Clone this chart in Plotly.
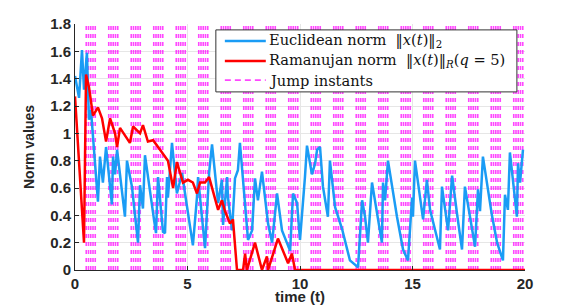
import plotly.graph_objects as go

# Euclidean norm ||x(t)||_2
t_euc = [0.00, 0.18, 0.31, 0.40, 0.53, 0.62, 0.71, 1.02, 1.11, 1.24, 1.38, 1.64, 1.69, 1.78, 1.87,
         2.22, 2.31, 2.53, 2.80, 2.89, 3.02, 3.11, 3.51, 3.60, 3.69, 3.91, 4.00, 4.09, 4.13, 4.31,
         4.53, 4.76, 4.89, 5.24, 5.42, 5.47, 5.64, 5.78, 5.96, 6.09, 6.36, 6.53, 6.58, 6.76, 6.80,
         6.98, 7.11, 7.24, 7.33, 7.64, 7.69, 7.87, 8.00, 8.13, 8.31, 8.58, 8.76, 8.98, 9.20, 9.56,
         9.69, 9.87, 10.00, 10.22, 10.31, 10.53, 10.67, 10.76, 10.89, 11.02, 11.24, 11.33, 11.56,
         11.87, 12.22, 12.58, 12.76, 12.89, 13.02, 13.20, 13.64, 13.69, 13.78, 13.91, 14.31, 14.58,
         14.80, 14.98, 15.02, 15.11, 15.47, 15.64, 15.78, 16.22, 16.31, 16.58, 16.76, 16.98, 17.20,
         17.33, 17.78, 17.91, 18.00, 18.13, 18.53, 18.76, 19.02, 19.11, 19.24, 19.33, 19.64, 19.69,
         19.78, 19.91]
v_euc = [1.42, 1.26, 1.61, 1.32, 1.59, 1.10, 1.17, 0.50, 0.83, 0.64, 0.90, 0.48, 0.83, 0.70, 0.88,
         0.39, 0.80, 0.61, 0.20, 0.62, 0.45, 0.84, 0.37, 0.27, 0.68, 0.28, 0.27, 0.68, 0.53, 0.93,
         0.56, 0.71, 0.56, 0.18, 0.53, 0.68, 0.39, 0.16, 0.71, 0.92, 0.49, 0.66, 0.33, 0.68, 0.53,
         0.29, 0.67, 0.73, 0.93, 0.37, 0.22, 0.29, 0.67, 0.51, 0.72, 0.34, 0.20, 0.56, 0.29, 0.14,
         0.56, 0.49, 0.22, 0.68, 0.91, 0.70, 0.78, 0.88, 0.90, 0.61, 0.39, 0.80, 0.46,
         0.30, 0.07, 0.02, 0.51, 0.39, 0.20, 0.64, 0.20, 0.64, 0.51, 0.80, 0.39, 0.15,
         0.07, 0.53, 0.39, 0.80, 0.37, 0.66, 0.44, 0.15, 0.61, 0.29, 0.69, 0.41, 0.15,
         0.61, 0.17, 0.59, 0.43, 0.83, 0.40, 0.20, 0.07, 0.55, 0.44, 0.86, 0.39, 0.78,
         0.64, 0.88]

# Ramanujan norm ||x(t)||_R (q=5)
t_ram = [0.00, 0.40, 0.49, 0.62, 0.80, 1.02, 1.20, 1.38, 1.56, 1.78, 1.87, 2.00, 2.44, 2.58, 2.89,
         3.02, 3.24, 3.47, 3.78, 4.13, 4.36, 4.53, 4.80, 5.02, 5.24, 5.42, 5.56, 5.78, 5.96, 6.13,
         6.36, 6.53, 6.67, 6.89, 7.02, 7.20, 7.47, 7.56, 7.64, 8.00, 8.31, 8.53, 8.58, 9.02, 9.47,
         9.64, 9.78, 20.00]
v_ram = [1.27, 0.20, 1.43, 1.34, 1.13, 1.19, 1.11, 0.94, 1.11, 1.00, 0.90, 1.04, 0.93, 1.05, 1.00,
         1.06, 0.94, 0.95, 0.88, 0.80, 0.60, 0.79, 0.64, 0.66, 0.64, 0.56, 0.64, 0.64, 0.68, 0.57,
         0.44, 0.51, 0.43, 0.34, 0.37, 0.00, 0.00, 0.12, 0.00, 0.20, 0.00, 0.10, 0.00, 0.23, 0.05,
         0.12, 0.00, 0.00]

# Jump instants
jumps = [0.5, 0.6, 0.7, 0.8, 0.9, 1.5, 1.6, 1.7, 1.8, 1.9, 2.5, 2.6, 2.7, 2.8, 2.9,
         3.5, 3.6, 3.7, 3.8, 3.9, 4.5, 4.6, 4.7, 4.8, 4.9, 5.5, 5.6, 5.7, 5.8, 5.9,
         6.5, 6.6, 6.7, 6.8, 6.9, 7.5, 7.6, 7.7, 7.8, 7.9, 8.5, 8.6, 8.7, 8.8, 8.9,
         9.5, 9.6, 9.7, 9.8, 9.9, 10.5, 10.6, 10.7, 10.8, 10.9, 11.5, 11.6, 11.7, 11.8, 11.9,
         12.5, 12.6, 12.7, 12.8, 12.9, 13.5, 13.6, 13.7, 13.8, 13.9, 14.5, 14.6, 14.7, 14.8, 14.9,
         15.5, 15.6, 15.7, 15.8, 15.9, 16.5, 16.6, 16.7, 16.8, 16.9, 17.5, 17.6, 17.7, 17.8, 17.9,
         18.5, 18.6, 18.7, 18.8, 18.9, 19.5, 19.6, 19.7, 19.8, 19.9]

series_names = [
    "Euclidean norm  ‖<i>x</i>(<i>t</i>)‖<sub>2</sub>",
    "Ramanujan norm  ‖<i>x</i>(<i>t</i>)‖<sub><i>R</i></sub>(<i>q</i> = 5)",
    "Jump instants",
]
x_title = "time (t)"
y_title = "Norm values"

y_min, y_max = 0, 1.8
x_ticks = [0, 5, 10, 15, 20]
y_ticks = [0, 0.2, 0.4, 0.6, 0.8, 1, 1.2, 1.4, 1.6, 1.8]
y_ticklabels = ["0", "0.2", "0.4", "0.6", "0.8", "1", "1.2", "1.4", "1.6", "1.8"]

colors = ["#1a9cf5", "#ff0000", "rgba(255,0,255,0.72)"]

jx, jy = [], []
for j in jumps:
    jx += [j, j, None]
    jy += [y_min, y_max, None]

fig = go.Figure()
fig.add_trace(go.Scatter(
    x=jx, y=jy, mode="lines", name=series_names[2], showlegend=False,
    line=dict(color=colors[2], width=1.6, dash="4px,4px"), hoverinfo="skip"))
fig.add_trace(go.Scatter(
    x=t_euc, y=v_euc, mode="lines", name=series_names[0], showlegend=False,
    line=dict(color=colors[0], width=2.5)))
fig.add_trace(go.Scatter(
    x=t_ram, y=v_ram, mode="lines", name=series_names[1], showlegend=False,
    line=dict(color=colors[1], width=2.5)))

# Legend drawn in paper coordinates (box, line samples, labels)
box = dict(x0=0.313, x1=0.982, y0=0.724, y1=0.976)
row_y = [0.931, 0.850, 0.772]
sample_x0, sample_x1, text_x = 0.333, 0.424, 0.426
fig.add_shape(type="rect", xref="paper", yref="paper", **box,
              fillcolor="white", line=dict(color="#333333", width=1), layer="above")
styles = [dict(color=colors[0], width=2.5), dict(color=colors[1], width=2.5),
          dict(color=colors[2], width=1.6, dash="6px,4px")]
for i, name in enumerate(series_names):
    fig.add_shape(type="line", xref="paper", yref="paper",
                  x0=sample_x0, x1=sample_x1, y0=row_y[i], y1=row_y[i],
                  line=styles[i], layer="above")
    fig.add_annotation(xref="paper", yref="paper", x=text_x, y=row_y[i],
                       xanchor="left", yanchor="middle", showarrow=False, text=name,
                       font=dict(family="DejaVu Serif, Liberation Serif, serif", size=14.6, color="#111111"))

axis_font = dict(family="Liberation Sans, Arial, sans-serif", size=15, color="#262626", weight="bold")

# x-axis title placed just below the tick labels
fig.add_annotation(xref="paper", yref="paper", x=0.5, y=-0.108, xanchor="center", yanchor="middle",
                   showarrow=False, text=x_title, font=axis_font)

fig.update_layout(
    width=581, height=307,
    margin=dict(l=67, r=64, t=16, b=45, autoexpand=False),
    paper_bgcolor="white", plot_bgcolor="white",
    showlegend=False,
    xaxis=dict(
        range=[0, 20], tickvals=x_ticks, ticktext=[str(v) for v in x_ticks],
        showgrid=True, gridcolor="#e6e6e6", gridwidth=1,
        showline=True, linecolor="#262626", linewidth=1,
        ticks="inside", ticklen=4, tickcolor="#262626",
        tickfont=axis_font, zeroline=False, automargin=False,
    ),
    yaxis=dict(
        range=[y_min, y_max], tickvals=y_ticks, ticktext=y_ticklabels,
        showgrid=True, gridcolor="#e6e6e6", gridwidth=1,
        showline=True, linecolor="#262626", linewidth=1,
        ticks="inside", ticklen=4, tickcolor="#262626",
        tickfont=axis_font, zeroline=False, automargin=False,
        title=dict(text=y_title, font=dict(family="Liberation Sans, Arial, sans-serif", size=14, color="#262626", weight="bold"), standoff=12),
    ),
)

fig.write_html("out.html")
